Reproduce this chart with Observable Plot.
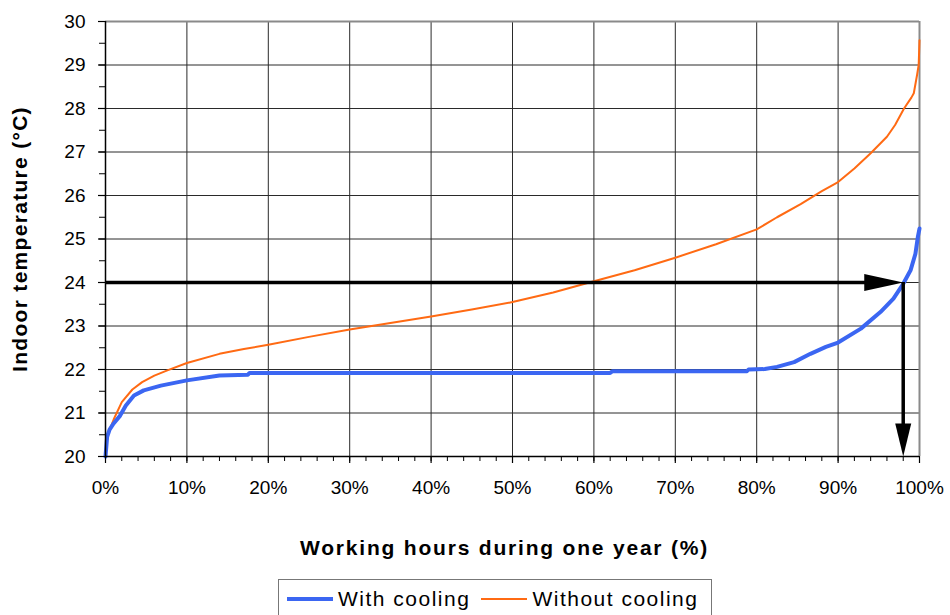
<!DOCTYPE html>
<html>
<head>
<meta charset="utf-8">
<script src="https://cdn.jsdelivr.net/npm/d3@7"></script>
<script src="https://cdn.jsdelivr.net/npm/@observablehq/plot@0.6"></script>
<style>
  html, body { margin: 0; padding: 0; background: #fff; }
  body { width: 950px; height: 615px; overflow: hidden; font-family: "Liberation Sans", Arial, sans-serif; }
  #legend {
    position: absolute; left: 278px; top: 579px; width: 434px; height: 40px;
    border: 1px solid #777; box-sizing: border-box; display: flex; align-items: center;
    font-size: 21px; letter-spacing: 1.5px; color: #000; white-space: nowrap;
  }
  .sw { display: inline-block; width: 46px; margin-left: 8px; margin-right: 5px; }
</style>
</head>
<body>
<div id="chart"></div>
<div id="legend">
  <span class="sw" style="border-top:4px solid #3b66f2"></span><span>With cooling</span>
  <span class="sw" style="border-top:2px solid #ff6a13; margin-left:11px"></span><span>Without cooling</span>
</div>
<script>
// ---- data ----
const withCoolingPct = [0, 0.2, 0.5, 1, 1.8, 2.5, 3.5, 4.7, 6.8, 10, 14, 17.5, 17.7, 30, 50, 62, 62.3, 78.8, 79, 81, 82.5, 84.6, 86.6, 88.5, 90, 92.8, 95.2, 96.8, 98, 98.9, 99.5, 99.8, 100];
const withCoolingTemp = [20.0, 20.45, 20.62, 20.76, 20.94, 21.17, 21.40, 21.52, 21.63, 21.75, 21.86, 21.88, 21.92, 21.92, 21.92, 21.92, 21.96, 21.96, 22.0, 22.01, 22.06, 22.17, 22.36, 22.52, 22.62, 22.94, 23.32, 23.63, 23.97, 24.28, 24.66, 25.05, 25.24];

const withoutCoolingPct = [0, 0.1, 0.4, 1, 2, 3.3, 4.5, 6, 7.6, 10, 14, 17, 20, 25, 30, 35, 40, 45, 50, 55, 60, 65, 70, 75, 80, 82.5, 85.4, 88, 90, 92, 94, 96, 97, 98.1, 99, 99.3, 99.7, 99.9, 100];
const withoutCoolingTemp = [20.0, 20.3, 20.56, 20.85, 21.25, 21.54, 21.71, 21.86, 21.98, 22.15, 22.36, 22.47, 22.57, 22.75, 22.92, 23.07, 23.22, 23.38, 23.55, 23.77, 24.03, 24.28, 24.57, 24.88, 25.22, 25.5, 25.8, 26.1, 26.31, 26.62, 26.97, 27.35, 27.62, 28.0, 28.25, 28.35, 28.77, 29.0, 29.57];

const xTicks = [0, 10, 20, 30, 40, 50, 60, 70, 80, 90, 100];
const xMinorTicks = d3.range(0, 101, 2);
const yTicks = [20, 21, 22, 23, 24, 25, 26, 27, 28, 29, 30];
const yMinorTicks = d3.range(20, 30.01, 0.5);

// reading arrow: from x=0 at the target temperature to the curve, then down to the axis
const arrowTemp = 24;
const arrowPct = 98;
const arrowStartPct = 0;
const arrowEndTemp = 20;

const xTitle = "Working hours during one year (%)";
const yTitle = "Indoor temperature (°C)";

// ---- build ----
const cooled = withCoolingPct.map((p, i) => ({p, t: withCoolingTemp[i]}));
const uncooled = withoutCoolingPct.map((p, i) => ({p, t: withoutCoolingTemp[i]}));

const headRight = {draw(ctx) { ctx.moveTo(0, 0); ctx.lineTo(-39, -8.5); ctx.lineTo(-39, 8.5); ctx.closePath(); }};
const headDown = {draw(ctx) { ctx.moveTo(0, 0); ctx.lineTo(-8, -33); ctx.lineTo(8, -33); ctx.closePath(); }};

const chart = Plot.plot({
  width: 950,
  height: 575,
  marginLeft: 105,
  marginRight: 31,
  marginTop: 21,
  marginBottom: 119,
  style: {fontFamily: "'Liberation Sans', Arial, sans-serif", fontSize: "19px", color: "#000", background: "#fff", overflow: "visible"},
  x: {domain: [0, 100]},
  y: {domain: [20, 30]},
  marks: [
    Plot.gridX(xTicks, {stroke: "#2a2a2a", strokeOpacity: 1, strokeWidth: 1}),
    Plot.gridY(yTicks, {stroke: "#2a2a2a", strokeOpacity: 1, strokeWidth: 1}),
    Plot.ruleY([30], {stroke: "#8a8a8a", strokeWidth: 2}),
    Plot.ruleX([100], {stroke: "#8a8a8a", strokeWidth: 2}),
    Plot.line(uncooled, {x: "p", y: "t", stroke: "#ff6a13", strokeWidth: 2}),
    Plot.line(cooled, {x: "p", y: "t", stroke: "#3b66f2", strokeWidth: 4}),
    Plot.ruleY([arrowTemp], {x1: arrowStartPct, x2: arrowPct, insetRight: 20, stroke: "#000", strokeWidth: 3.5}),
    Plot.ruleX([arrowPct], {y1: arrowTemp, y2: arrowEndTemp, insetBottom: 20, stroke: "#000", strokeWidth: 3.5}),
    Plot.dot([{p: arrowPct, t: arrowTemp}], {x: "p", y: "t", symbol: headRight, fill: "#000", stroke: "none"}),
    Plot.dot([{p: arrowPct, t: arrowEndTemp}], {x: "p", y: "t", symbol: headDown, fill: "#000", stroke: "none"}),
    Plot.axisX({ticks: xMinorTicks, tickSize: 5, tickFormat: () => "", label: null, strokeWidth: 1}),
    Plot.axisX({ticks: xTicks, tickSize: 7, tickPadding: 17, tickFormat: d => d + "%", label: null, fontSize: 19, strokeWidth: 1.2}),
    Plot.axisY({ticks: yMinorTicks, tickSize: 6, tickFormat: () => "", label: null, strokeWidth: 1}),
    Plot.axisY({ticks: yTicks, tickSize: 7, tickPadding: 13, label: null, fontSize: 19, strokeWidth: 1.2}),
    Plot.ruleY([20], {stroke: "#000", strokeWidth: 1.5}),
    Plot.ruleX([0], {stroke: "#000", strokeWidth: 1.5}),
    Plot.text([xTitle], {frameAnchor: "bottom", dy: 92, dx: -8, text: d => d, fontWeight: "bold", fontSize: 21, lineAnchor: "middle", textAnchor: "middle"}),
    Plot.text([yTitle], {frameAnchor: "left", dx: -85, rotate: -90, text: d => d, fontWeight: "bold", fontSize: 21, lineAnchor: "middle", textAnchor: "middle"})
  ]
});
d3.select(chart).selectAll("text").each(function() {
  if (this.textContent === xTitle) this.style.letterSpacing = "1.8px";
  if (this.textContent === yTitle) this.style.letterSpacing = "1.3px";
});
document.getElementById("chart").appendChild(chart);
</script>
</body>
</html>
